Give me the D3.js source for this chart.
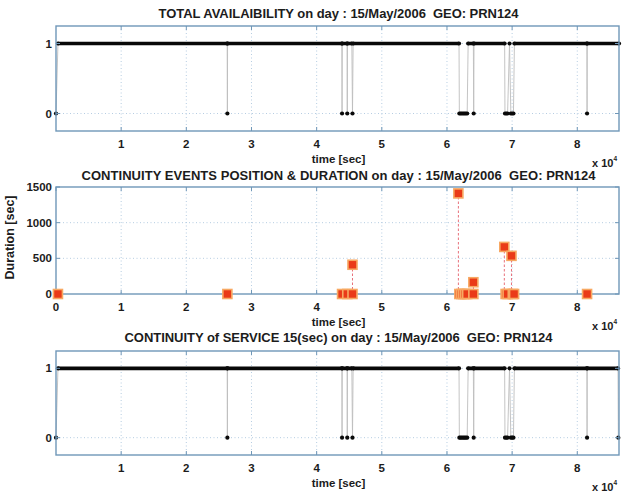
<!doctype html>
<html lang="en">
<head>
<meta charset="utf-8">
<title>Availability and continuity</title>
<script src="https://d3js.org/d3.v7.min.js"></script>
<style>
  body { margin: 0; background: #fff; }
  text { font-family: "Liberation Sans", Arial, sans-serif; fill: #1c1c1c; font-weight: bold; white-space: pre; }
</style>
</head>
<body>
<svg id="chart" width="627" height="492"></svg>
<script>
// x axis ticks, in units of 10^4 sec
var xTicks = [1, 2, 3, 4, 5, 6, 7, 8];
var xTicksMid = [0, 1, 2, 3, 4, 5, 6, 7, 8];
var dayLength = 86400;

// total availability samples (time [sec], 0/1)
var availTime  = [0, 300, 26270, 26300, 26330, 43870, 43900, 43930, 44670, 44700, 44730, 45400, 45500, 45600,
                  61850, 61900, 62100, 62300, 62500, 62700, 62900, 63100, 63250, 64050, 64100, 64150,
                  68850, 68900, 69100, 69300, 69600, 69800, 70000, 70200, 70350, 81470, 81500, 81530, 86400];
var availValue = [0, 1, 1, 0, 1, 1, 0, 1, 1, 0, 1, 1, 0, 1,
                  1, 0, 0, 0, 0, 0, 0, 0, 1, 1, 0, 1,
                  1, 0, 0, 0, 1, 0, 0, 0, 1, 1, 0, 1, 1];

// continuity of service samples
var servTime  = [0, 300, 26270, 26300, 26330, 43870, 43900, 43930, 44670, 44700, 44730, 45400, 45500, 45600,
                 61850, 61900, 62100, 62300, 62500, 62700, 62900, 63100, 63250, 64050, 64100, 64150,
                 68850, 68900, 69100, 69300, 69600, 69800, 70000, 70200, 70350, 81470, 81500, 81530, 86250, 86300];
var servValue = [0, 1, 1, 0, 1, 1, 0, 1, 1, 0, 1, 1, 0, 1,
                 1, 0, 0, 0, 0, 0, 0, 0, 1, 1, 0, 1,
                 1, 0, 0, 0, 1, 0, 0, 0, 1, 1, 0, 1, 1, 0];

// continuity events: position [sec] and duration [sec]
var eventTime     = [300, 26300, 43900, 44700, 45500, 45500, 61750, 61900, 62200, 62500, 62800, 63100, 64050, 64050,
                     68800, 69000, 69300, 69900, 70100, 70300, 81500];
var eventDuration = [0, 0, 0, 0, 0, 410, 1410, 0, 0, 0, 0, 0, 0, 165,
                     660, 0, 0, 535, 0, 0, 0];
var durTicks = [0, 500, 1000, 1500];
var binTicks = [0, 1];

var titles = [
  "TOTAL AVAILAIBILITY on day : 15/May/2006  GEO: PRN124",
  "CONTINUITY EVENTS POSITION & DURATION on day : 15/May/2006  GEO: PRN124",
  "CONTINUITY of SERVICE 15(sec) on day : 15/May/2006  GEO: PRN124"
];
var titleWidths = [360, 514, 428];

var svg = d3.select("#chart");
var left = 56, right = 619;
var boxColor = "#6f97b8", gridColor = "#a3c0da";

var x = d3.scaleLinear().domain([0, dayLength]).range([left, right]);

function frame(top, bottom, y, yTicks, xt) {
  var g = svg.append("g");
  g.selectAll(".vg").data(xt.filter(function(d){ return d > 0; })).enter().append("line")
    .attr("x1", function(d){ return x(d * 1e4); }).attr("x2", function(d){ return x(d * 1e4); })
    .attr("y1", top).attr("y2", bottom)
    .attr("stroke", gridColor).attr("stroke-width", 0.8).attr("stroke-dasharray", "1,2.5");
  g.selectAll(".hg").data(yTicks).enter().append("line")
    .attr("x1", left).attr("x2", right)
    .attr("y1", function(d){ return y(d); }).attr("y2", function(d){ return y(d); })
    .attr("stroke", gridColor).attr("stroke-width", 0.8).attr("stroke-dasharray", "1,2.5");
  return g;
}

function box(g, top, bottom, y, yTicks, xt) {
  g.append("rect").attr("x", left).attr("y", top).attr("width", right - left).attr("height", bottom - top)
    .attr("fill", "none").attr("stroke", boxColor).attr("stroke-width", 1.4);
  xt.forEach(function(d) {
    var px = x(d * 1e4);
    g.append("line").attr("x1", px).attr("x2", px).attr("y1", bottom).attr("y2", bottom - 4).attr("stroke", boxColor);
    g.append("line").attr("x1", px).attr("x2", px).attr("y1", top).attr("y2", top + 4).attr("stroke", boxColor);
    g.append("text").attr("x", px).attr("y", bottom + 17).attr("text-anchor", "middle")
      .attr("font-size", 11.5).text(d);
  });
  yTicks.forEach(function(d) {
    var py = y(d);
    g.append("line").attr("x1", left).attr("x2", left + 4).attr("y1", py).attr("y2", py).attr("stroke", boxColor);
    g.append("line").attr("x1", right).attr("x2", right - 4).attr("y1", py).attr("y2", py).attr("stroke", boxColor);
    g.append("text").attr("x", left - 4).attr("y", py + 4).attr("text-anchor", "end")
      .attr("font-size", 11.5).text(d);
  });
  g.append("text").attr("x", (left + right) / 2 + 1).attr("y", bottom + 32).attr("text-anchor", "middle")
    .attr("font-size", 11.5).attr("font-weight", "normal").text("time [sec]");
  var xl = g.append("text").attr("x", 592).attr("y", bottom + 36).attr("font-size", 11);
  xl.append("tspan").text("x 10");
  xl.append("tspan").attr("font-size", 6.5).attr("dy", -6).text("4");
}

function addTitle(i, ty) {
  svg.append("text").attr("x", (left + right) / 2 + 1).attr("y", ty).attr("text-anchor", "middle")
    .attr("font-size", 13).attr("textLength", titleWidths[i]).attr("lengthAdjust", "spacing")
    .text(titles[i]);
}

function binaryPanel(top, bottom, times, values, ti, titleY) {
  var y = d3.scaleLinear().domain([-0.25, 1.25]).range([bottom, top]);
  var pts = times.map(function(t, i){ return { t: t, v: values[i] }; });
  var g = frame(top, bottom, y, binTicks, xTicks);

  // thin connecting line (shows transitions)
  g.append("path").datum(pts)
    .attr("fill", "none").attr("stroke", "#bdbdbd").attr("stroke-width", 0.9)
    .attr("d", d3.line().x(function(d){ return x(d.t); }).y(function(d){ return y(d.v); }));
  // dense samples at 1 look like a thick bar
  g.append("path").datum(pts)
    .attr("fill", "none").attr("stroke", "#080808").attr("stroke-width", 3.6)
    .attr("d", d3.line().defined(function(d){ return d.v === 1; })
      .x(function(d){ return x(d.t); }).y(function(d){ return y(d.v); }));
  g.selectAll(".pt").data(pts).enter().append("circle")
    .attr("cx", function(d){ return x(d.t); }).attr("cy", function(d){ return y(d.v); })
    .attr("r", 2.1).attr("fill", "#0a0a0a");

  box(g, top, bottom, y, binTicks, xTicks);
  addTitle(ti, titleY);
}

// panel 1
binaryPanel(26, 131, availTime, availValue, 0, 18);

// panel 2
(function() {
  var top = 187, bottom = 294;
  var y = d3.scaleLinear().domain([0, 1500]).range([bottom, top]);
  var ev = eventTime.map(function(t, i){ return { t: t, d: eventDuration[i] }; });
  var g = frame(top, bottom, y, [500, 1000], xTicks);

  g.selectAll(".stem").data(ev.filter(function(d){ return d.d > 0; })).enter().append("line")
    .attr("x1", function(d){ return x(d.t); }).attr("x2", function(d){ return x(d.t); })
    .attr("y1", y(0)).attr("y2", function(d){ return y(d.d); })
    .attr("stroke", "#e8707a").attr("stroke-width", 1).attr("stroke-dasharray", "2.5,2");

  box(g, top, bottom, y, durTicks, xTicksMid);

  var s = 9;
  g.selectAll(".sq").data(ev).enter().append("rect")
    .attr("x", function(d){ return x(d.t) - s / 2; }).attr("y", function(d){ return y(d.d) - s / 2; })
    .attr("width", s).attr("height", s)
    .attr("fill", "#ea3a18").attr("stroke", "#f7a862").attr("stroke-width", 1.6);

  svg.append("text").attr("transform", "translate(14," + ((top + bottom) / 2 - 3) + ") rotate(-90)")
    .attr("text-anchor", "middle").attr("font-size", 12.5).text("Duration [sec]");
  addTitle(1, 180);
})();

// panel 3
binaryPanel(351, 455, servTime, servValue, 2, 342);
</script>
</body>
</html>
